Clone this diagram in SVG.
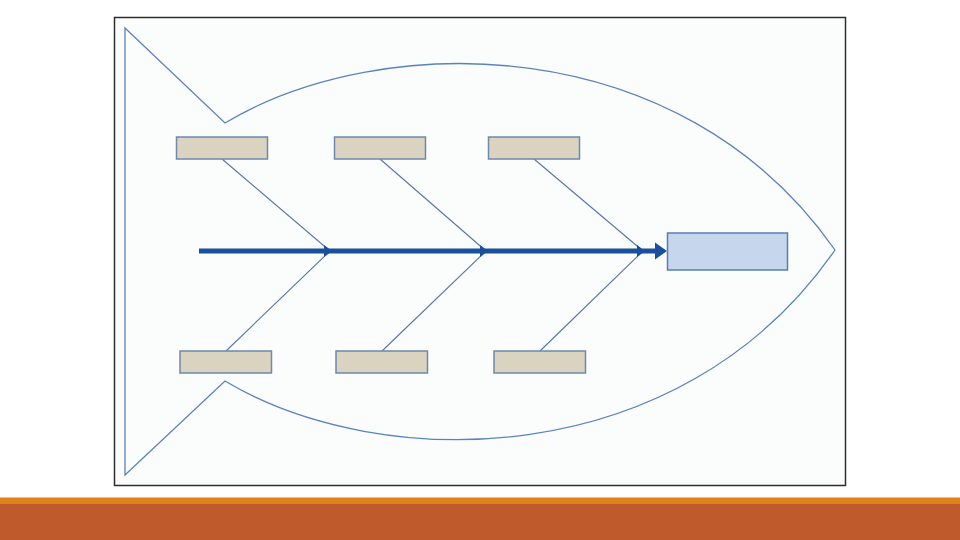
<svg xmlns="http://www.w3.org/2000/svg" width="960" height="540" viewBox="0 0 960 540">
<defs>
<style>
.fish{fill:none;stroke:#5B82BC;stroke-width:1.3}
.cause{fill:#D9D3C0;stroke:#6E88AE;stroke-width:1.5}
.effect{fill:#C6D6EC;stroke:#5A7DB2;stroke-width:1.5}
.bone{stroke:#5575A8;stroke-width:1.1;fill:none}
.spine{stroke:#1A4F9B;stroke-width:5;fill:none}
.tip{fill:#1A4F9B}
</style>
</defs>
<rect x="0" y="0" width="960" height="540" fill="#FFFFFF"/>
<rect x="114.5" y="17.5" width="731" height="468" fill="#FBFDFD" stroke="#2E2E2E" stroke-width="1.5"/>
<g id="fish">
<path class="fish" d="M125,28 L225,123 C380,30 680,28 835,250 C680,474 380,474 225,381 L125,475 Z"/>
</g>
<g id="connectors">
<line class="bone" x1="222" y1="159" x2="330" y2="251"/>
<line class="bone" x1="380" y1="159" x2="486" y2="251"/>
<line class="bone" x1="534" y1="159" x2="643" y2="251"/>
<line class="bone" x1="226" y1="351" x2="330" y2="251"/>
<line class="bone" x1="382" y1="351" x2="486" y2="251"/>
<line class="bone" x1="540" y1="351" x2="643" y2="251"/>
<line class="spine" x1="199" y1="251" x2="660" y2="251"/>
<polygon class="tip" points="324,245 332,251 324,257"/>
<polygon class="tip" points="480,245 488,251 480,257"/>
<polygon class="tip" points="637,245 645,251 637,257"/>
<polygon class="tip" points="655,242.5 667,251 655,259.5"/>
</g>
<g id="cause1"><rect class="cause" x="176.5" y="137" width="91" height="22"/></g>
<g id="cause2"><rect class="cause" x="334.5" y="137" width="91" height="22"/></g>
<g id="cause3"><rect class="cause" x="488.5" y="137" width="91" height="22"/></g>
<g id="cause4"><rect class="cause" x="180" y="351" width="91.5" height="22"/></g>
<g id="cause5"><rect class="cause" x="336" y="351" width="91.5" height="22"/></g>
<g id="cause6"><rect class="cause" x="494" y="351" width="91.5" height="22"/></g>
<g id="effect"><rect class="effect" x="667.5" y="233" width="120" height="37"/></g>
<rect x="0" y="497.5" width="960" height="6.5" fill="#E08219"/>
<rect x="0" y="504" width="960" height="36" fill="#BE5A2C"/>
</svg>
